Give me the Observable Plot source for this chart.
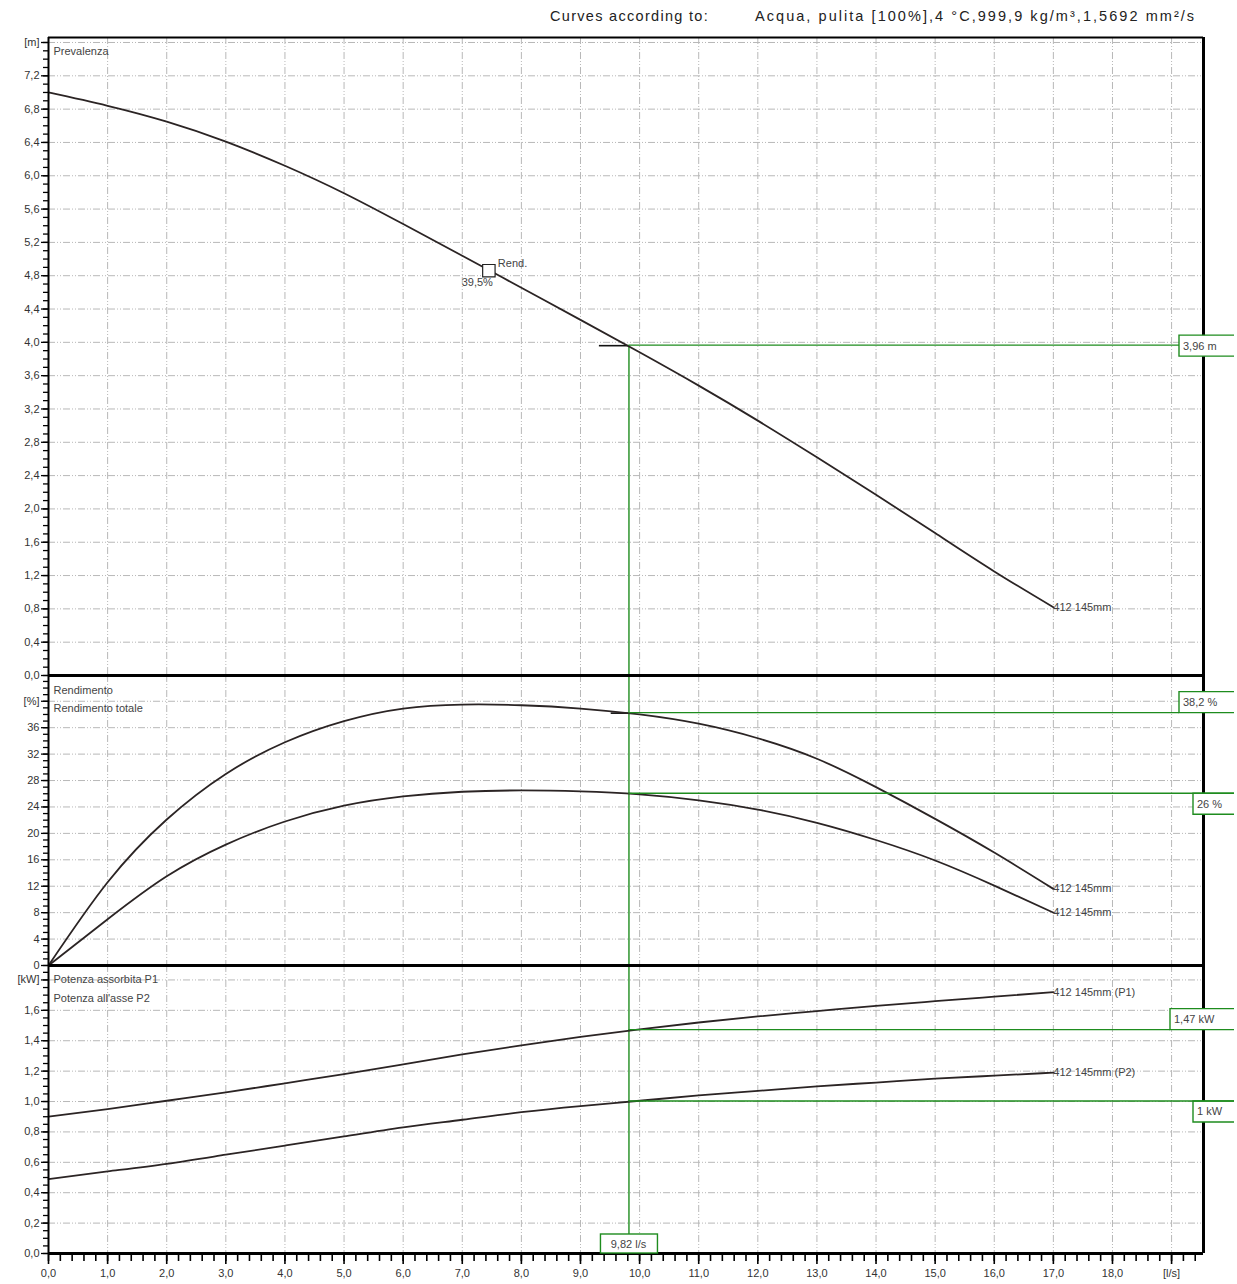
<!DOCTYPE html>
<html><head><meta charset="utf-8">
<script src="https://cdn.jsdelivr.net/npm/d3@7"></script>
<script src="https://cdn.jsdelivr.net/npm/@observablehq/plot@0.6"></script>
<style>
body{margin:0;background:#fff;font-family:"Liberation Sans",Arial,sans-serif;}
#wrap{position:relative;width:1237px;}
#title{position:relative;height:30px;font-size:14.5px;color:#222;}
#title span{position:absolute;top:8px;white-space:nowrap;}
svg{display:block}
</style></head><body>
<div id="wrap">
<div id="title"><span style="left:550px;letter-spacing:1.3px">Curves according to:</span><span style="left:755px;letter-spacing:2.05px">Acqua, pulita [100%],4 °C,999,9 kg/m³,1,5692 mm²/s</span></div>
<div id="charts"></div>
</div>
<script>
// ---- data ----
const Q = [0,1,2,3,4,5,6,7,8,9,10,11,12,13,14,15,16,17];
const head = [7.00,6.84,6.65,6.41,6.12,5.79,5.42,5.04,4.655,4.27,3.88,3.48,3.06,2.62,2.17,1.71,1.25,0.82];
const eff = [0,12.6,22.1,29.0,33.8,37.0,38.9,39.5,39.4,38.9,38.0,36.6,34.4,31.3,27.0,22.2,17.1,11.6];
const effTot = [0,7.0,13.5,18.3,21.8,24.2,25.6,26.3,26.5,26.35,25.9,25.0,23.6,21.6,19.0,15.9,12.1,8.0];
const p1 = [0.90,0.95,1.005,1.06,1.12,1.18,1.245,1.31,1.37,1.425,1.475,1.52,1.56,1.595,1.63,1.66,1.69,1.72];
const p2 = [0.49,0.54,0.59,0.65,0.71,0.77,0.83,0.88,0.93,0.97,1.005,1.04,1.07,1.10,1.125,1.15,1.17,1.19];
const curveName = "412 145mm";
const dutyQ = 9.82;
const dutyHead = 3.96, dutyEff = 38.2, dutyEffTot = 26, dutyP1 = 1.47, dutyP2 = 1.0;
const bestPoint = {q: 7.45, h: 4.86, label: "Rend.", value: "39,5%"};
const xMajor = [0,1,2,3,4,5,6,7,8,9,10,11,12,13,14,15,16,17,18,19];
const headTicks = [0,0.4,0.8,1.2,1.6,2.0,2.4,2.8,3.2,3.6,4.0,4.4,4.8,5.2,5.6,6.0,6.4,6.8,7.2,7.6];
const effTicks = [0,4,8,12,16,20,24,28,32,36,40];
const powTicks = [0,0.2,0.4,0.6,0.8,1.0,1.2,1.4,1.6,1.8];

// ---- helpers ----
const XMAX = 19.54;
const fmt1 = d => d.toFixed(1).replace(".", ",");
const GREEN = "#1e8c1e";
const CURVE = "#2b2424";
const TXT = "#444";
const gridStyle = {stroke: "#b8b8b8", strokeOpacity: 1, strokeWidth: 1, strokeDasharray: "7,2,1,2,1,2"};
const rows = arr => Q.map((q, i) => ({q, v: arr[i]}));
const xMinor = d3.range(0, 98).map(i => +(i * 0.2).toFixed(1));

function valueBox(v, text, mode, boxLeft) {
  return (index, scales) => {
    const x0 = scales.x(dutyQ), yv = scales.y(v);
    const R = 1234, H = 21;
    const g = d3.create("svg:g");
    let top, lineEnd;
    if (mode === "center") { top = yv - 10; lineEnd = boxLeft; }
    else if (mode === "above") { top = yv - H; lineEnd = boxLeft; }
    else { top = yv; lineEnd = R; }
    g.append("rect").attr("x", boxLeft).attr("y", top).attr("width", R - boxLeft).attr("height", H).attr("fill", "#fff");
    g.append("line").attr("x1", x0).attr("x2", lineEnd).attr("y1", yv).attr("y2", yv)
      .attr("stroke", GREEN).attr("stroke-width", 1.4);
    g.append("path").attr("d", `M${R},${top}H${boxLeft}V${top + H}H${R}`)
      .attr("fill", "none").attr("stroke", GREEN).attr("stroke-width", 1.4);
    g.append("text").attr("x", boxLeft + 4).attr("y", top + H / 2).attr("dy", "0.35em")
      .attr("text-anchor", "start").attr("fill", TXT).attr("font-size", 11).text(text);
    return g.node();
  };
}

function flowBox(text) {
  return (index, scales, values, dims) => {
    const x0 = scales.x(dutyQ);
    const bottom = dims.height - dims.marginBottom;
    const g = d3.create("svg:g");
    g.append("rect").attr("x", x0 - 28).attr("y", bottom - 19).attr("width", 57).attr("height", 19)
      .attr("fill", "#fff").attr("stroke", GREEN).attr("stroke-width", 1.4);
    g.append("text").attr("x", x0).attr("y", bottom - 9).attr("dy", "0.35em").attr("text-anchor", "middle")
      .attr("fill", TXT).attr("font-size", 11).text(text);
    return g.node();
  };
}

function panel({height, marginTop, marginBottom, yMax, majors, minors, fmt, unit, marks, overlay = [], xAxis}) {
  const lab = d => (Math.abs(d - majors[majors.length - 1]) < 1e-9 ? unit : fmt(d));
  return Plot.plot({
    width: 1237, height, marginLeft: 48, marginRight: 34, marginTop, marginBottom,
    style: {fontFamily: "'Liberation Sans', Arial, sans-serif", fontSize: "11px", overflow: "visible", background: "transparent"},
    x: {domain: [0, XMAX], axis: null},
    y: {domain: [0, yMax], axis: null},
    marks: [
      Plot.ruleX(xMajor.filter(d => d > 0), {...gridStyle}),
      Plot.ruleY(majors.filter(d => d > 0), {...gridStyle}),
      ...marks,
      Plot.axisY(minors, {tickSize: 5, tickFormat: () => "", label: null, stroke: "#000", strokeWidth: 1.3}),
      Plot.axisY(majors, {tickSize: 7, tickPadding: 2, tickFormat: lab, label: null, stroke: "#000", strokeWidth: 1.3, fill: "#333", fontSize: 11}),
      ...(xAxis ? [
        Plot.axisX(xMinor, {tickSize: 8, tickFormat: () => "", label: null, stroke: "#000", strokeWidth: 1.6}),
        Plot.axisX(xMajor, {tickSize: 11, tickPadding: 5, label: null, tickFormat: d => d === 19 ? "[l/s]" : fmt1(d), stroke: "#000", strokeWidth: 1.6, fill: "#333", fontSize: 11})
      ] : []),
      Plot.ruleX([0], {stroke: "#000", strokeWidth: 2}),
      Plot.ruleX([XMAX], {stroke: "#000", strokeWidth: 3}),
      Plot.ruleY([0], {stroke: "#000", strokeWidth: 3}),
      Plot.ruleY([yMax], {stroke: "#000", strokeWidth: marginTop > 0 ? 2 : 3}),
      ...overlay
    ]
  });
}

const charts = document.getElementById("charts");
const textOpts = {fill: TXT, fontSize: 11, textAnchor: "start"};
const lineOpts = {x: "q", y: "v", curve: "natural", stroke: CURVE, strokeWidth: 1.8};

// Head panel
charts.append(panel({
  height: 645, marginTop: 7, marginBottom: 0, yMax: 7.66,
  majors: headTicks, minors: d3.range(0, 77).map(i => +(i * 0.1).toFixed(1)), fmt: fmt1, unit: "[m]",
  marks: [
    Plot.text(["Prevalenza"], {frameAnchor: "top-left", dx: 5, dy: 14, lineAnchor: "middle", ...textOpts}),
    Plot.ruleX([dutyQ], {y1: 0, y2: dutyHead, stroke: GREEN, strokeWidth: 1.4}),
    Plot.ruleY([dutyHead], {x1: dutyQ - 0.5, x2: dutyQ, stroke: "#111", strokeWidth: 1.6}),
    Plot.line(rows(head), lineOpts),
    Plot.text([{q: Q[Q.length - 1], v: head[head.length - 1]}], {x: "q", y: "v", text: () => curveName, ...textOpts}),
    Plot.dot([bestPoint], {x: "q", y: "h", symbol: "square", r: 7, fill: "#fff", stroke: "#222", strokeWidth: 1.2}),
    Plot.text([bestPoint], {x: "q", y: "h", text: "label", dx: 9, dy: -7, ...textOpts}),
    Plot.text([bestPoint], {x: "q", y: "h", text: "value", dx: 4, dy: 12, fill: TXT, fontSize: 11, textAnchor: "end"})
  ],
  overlay: [valueBox(dutyHead, "3,96 m", "center", 1179)]
}));

// Efficiency panel
charts.append(panel({
  height: 290, marginTop: 0, marginBottom: 0, yMax: 43.9,
  majors: effTicks, minors: d3.range(0, 44), fmt: d => String(d), unit: "[%]",
  marks: [
    Plot.text(["Rendimento"], {frameAnchor: "top-left", dx: 5, dy: 15, lineAnchor: "middle", ...textOpts}),
    Plot.text(["Rendimento totale"], {frameAnchor: "top-left", dx: 5, dy: 33, lineAnchor: "middle", ...textOpts}),
    Plot.ruleX([dutyQ], {stroke: GREEN, strokeWidth: 1.4}),
    Plot.ruleY([dutyEff], {x1: dutyQ - 0.3, x2: dutyQ, stroke: "#111", strokeWidth: 1.6}),
    Plot.line(rows(eff), lineOpts),
    Plot.line(rows(effTot), lineOpts),
    Plot.text([{q: 17, v: eff[17]}, {q: 17, v: effTot[17]}], {x: "q", y: "v", text: () => curveName, ...textOpts})
  ],
  overlay: [valueBox(dutyEff, "38,2 %", "above", 1179), valueBox(dutyEffTot, "26 %", "below", 1193)]
}));

// Power panel
charts.append(panel({
  height: 319, marginTop: 0, marginBottom: 31, yMax: 1.895,
  majors: powTicks, minors: d3.range(0, 38).map(i => +(i * 0.05).toFixed(2)), fmt: fmt1, unit: "[kW]",
  xAxis: true,
  marks: [
    Plot.text(["Potenza assorbita P1"], {frameAnchor: "top-left", dx: 5, dy: 14, lineAnchor: "middle", ...textOpts}),
    Plot.text(["Potenza all'asse P2"], {frameAnchor: "top-left", dx: 5, dy: 33, lineAnchor: "middle", ...textOpts}),
    Plot.ruleX([dutyQ], {stroke: GREEN, strokeWidth: 1.4}),
    Plot.line(rows(p1), lineOpts),
    Plot.line(rows(p2), lineOpts),
    Plot.text([{q: 17, v: p1[17], t: curveName + " (P1)"}, {q: 17, v: p2[17], t: curveName + " (P2)"}], {x: "q", y: "v", text: "t", ...textOpts})
  ],
  overlay: [valueBox(dutyP1, "1,47 kW", "above", 1170), valueBox(dutyP2, "1 kW", "below", 1193), flowBox("9,82 l/s")]
}));
</script>
</body></html>
